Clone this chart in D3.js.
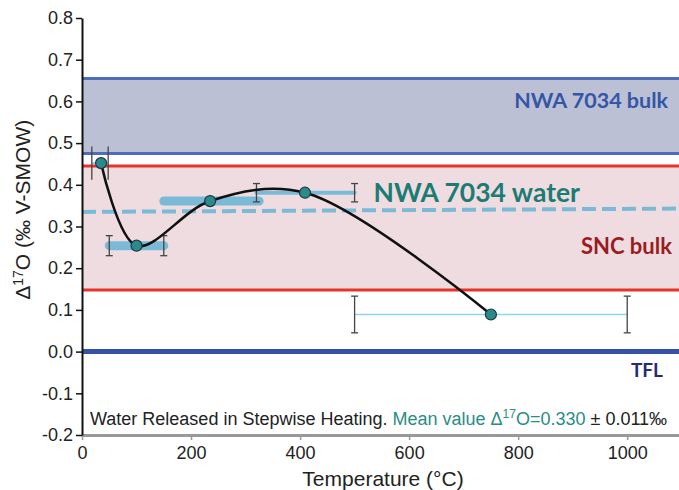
<!DOCTYPE html>
<html>
<head>
<meta charset="utf-8">
<script src="https://cdn.jsdelivr.net/npm/d3@7"></script>
<style>
  body { margin: 0; background: #fff; }
  text { font-family: "Liberation Sans", Arial, sans-serif; }
  .lbl { font-family: Lato, "Open Sans", sans-serif; font-weight: bold; }
</style>
</head>
<body>
<div id="chart"></div>
<script>
// stepwise heating steps
var temps   = [35, 100, 235, 409, 750];
var d17     = [0.452, 0.254, 0.361, 0.381, 0.089];
var stepLo  = [18, 50, 150, 320, 500];
var stepHi  = [48, 150, 325, 500, 1000];
var errD17  = [0.04, 0.024, 0, 0.022, 0.044];
var hasCaps = [false, true, false, true, true];

// reference bands
var nwaBulk = [0.475, 0.655];
var sncBulk = [0.148, 0.445];
var meanLine = [[0, 0.335], [1100, 0.343]];

var xTicks = [0, 200, 400, 600, 800, 1000];
var yTicks = [-0.2, -0.1, 0, 0.1, 0.2, 0.3, 0.4, 0.5, 0.6, 0.7, 0.8];

var barWidths = [2, 9, 9, 4, 1.5];
var barColors = ["#8fd3ec", "#7bbad6", "#7bbad6", "#7bbad6", "#8fd3ec"];

var margin = {top: 18, right: 0, bottom: 55, left: 82}
    , width = 679 - margin.left - margin.right
    , height = 490 - margin.top - margin.bottom;

var svg = d3.select("#chart").append("svg")
    .attr("width", 679)
    .attr("height", 490)
    .append("g")
    .attr("transform", "translate(" + margin.left + "," + margin.top + ")");

var x = d3.scaleLinear().domain([0, 1095]).range([0, width]);
var y = d3.scaleLinear().domain([-0.2, 0.8]).range([height, 0]);

// NWA 7034 bulk band
svg.append("rect")
    .attr("x", 0).attr("width", width)
    .attr("y", y(nwaBulk[1])).attr("height", y(nwaBulk[0]) - y(nwaBulk[1]))
    .attr("fill", "#bbc0d5");
// SNC bulk band
svg.append("rect")
    .attr("x", 0).attr("width", width)
    .attr("y", y(sncBulk[1])).attr("height", y(sncBulk[0]) - y(sncBulk[1]))
    .attr("fill", "#efdce0");

nwaBulk.forEach(function (v) {
    svg.append("line")
        .attr("x1", 0).attr("x2", width).attr("y1", y(v)).attr("y2", y(v))
        .attr("stroke", "#4d6db8").attr("stroke-width", 3);
});
sncBulk.forEach(function (v) {
    svg.append("line")
        .attr("x1", 0).attr("x2", width).attr("y1", y(v)).attr("y2", y(v))
        .attr("stroke", "#e8332a").attr("stroke-width", 3);
});

// TFL
svg.append("line")
    .attr("x1", 0).attr("x2", width).attr("y1", y(0)).attr("y2", y(0))
    .attr("stroke", "#3652a6").attr("stroke-width", 5);

// mean dashed line
svg.append("line")
    .attr("x1", x(meanLine[0][0])).attr("x2", x(meanLine[1][0]))
    .attr("y1", y(meanLine[0][1])).attr("y2", y(meanLine[1][1]))
    .attr("stroke", "#7bbad6").attr("stroke-width", 4)
    .attr("stroke-dasharray", "14,6");

// temperature step bars
var idx = d3.range(temps.length);
svg.selectAll(".bar").data(idx).enter().append("line")
    .attr("x1", function (i) { return x(stepLo[i]); })
    .attr("x2", function (i) { return x(stepHi[i]); })
    .attr("y1", function (i) { return y(d17[i]); })
    .attr("y2", function (i) { return y(d17[i]); })
    .attr("stroke", function (i) { return barColors[i]; })
    .attr("stroke-width", function (i) { return barWidths[i]; })
    .attr("stroke-linecap", function (i) { return barWidths[i] > 3 ? "round" : "butt"; });

// error bars at step ends
idx.forEach(function (i) {
    if (errD17[i] === 0) return;
    [stepLo[i], stepHi[i]].forEach(function (t) {
        var g = svg.append("g").attr("stroke", "#444").attr("stroke-width", 1.3);
        g.append("line")
            .attr("x1", x(t)).attr("x2", x(t))
            .attr("y1", y(d17[i] + errD17[i])).attr("y2", y(d17[i] - errD17[i]));
        if (hasCaps[i]) {
            [d17[i] + errD17[i], d17[i] - errD17[i]].forEach(function (v) {
                g.append("line")
                    .attr("x1", x(t) - 3.5).attr("x2", x(t) + 3.5)
                    .attr("y1", y(v)).attr("y2", y(v));
            });
        }
    });
});

// smooth curve
var line = d3.line()
    .x(function (i) { return x(temps[i]); })
    .y(function (i) { return y(d17[i]); })
    .curve(d3.curveCatmullRom.alpha(0.5));
svg.append("path")
    .datum(idx)
    .attr("d", line)
    .attr("fill", "none")
    .attr("stroke", "#111")
    .attr("stroke-width", 2.5);

svg.selectAll(".pt").data(idx).enter().append("circle")
    .attr("cx", function (i) { return x(temps[i]); })
    .attr("cy", function (i) { return y(d17[i]); })
    .attr("r", 5.5)
    .attr("fill", "#2a8c8a")
    .attr("stroke", "#234")
    .attr("stroke-width", 1.2);

// axes
var xAxis = svg.append("g")
    .attr("transform", "translate(0," + height + ")")
    .call(d3.axisBottom(x).tickValues(xTicks).tickSize(5).tickSizeOuter(0).tickFormat(d3.format("d")));
xAxis.select(".domain").attr("stroke", "#999").attr("stroke-width", 3);
xAxis.selectAll(".tick line").attr("stroke", "#999").attr("stroke-width", 1.5);
xAxis.selectAll(".tick text").attr("font-size", 18).attr("fill", "#222").attr("dy", "0.9em");

var yAxis = svg.append("g")
    .call(d3.axisLeft(y).tickValues(yTicks).tickSize(6).tickSizeOuter(0)
        .tickFormat(function (d) { return d3.format(".1f")(d).replace("−", "-"); }));
yAxis.select(".domain").attr("stroke", "#111").attr("stroke-width", 2);
yAxis.selectAll(".tick line").attr("stroke", "#111").attr("stroke-width", 1.5);
yAxis.selectAll(".tick text").attr("font-size", 18).attr("fill", "#222").attr("x", -9);

// axis titles
svg.append("text")
    .attr("x", 301).attr("y", height + 51)
    .attr("text-anchor", "middle")
    .attr("font-size", 21).attr("fill", "#222")
    .text("Temperature (°C)");

var yt = svg.append("text")
    .attr("transform", "translate(-52," + (y(0.34)) + ") rotate(-90)")
    .attr("text-anchor", "middle")
    .attr("font-size", 21).attr("fill", "#222");
yt.append("tspan").text("Δ");
yt.append("tspan").attr("font-size", 14).attr("dy", -7).text("17");
yt.append("tspan").attr("dy", 7).text("O (‰ V-SMOW)");

// labels
svg.append("text").attr("class", "lbl")
    .attr("x", 586).attr("y", y(0.6) + 7)
    .attr("text-anchor", "end").attr("font-size", 21.5).attr("fill", "#3456a6")
    .text("NWA 7034 bulk");
svg.append("text").attr("class", "lbl")
    .attr("x", 498).attr("y", y(0.345) - 6)
    .attr("text-anchor", "end").attr("font-size", 26.5).attr("fill", "#1c7c74")
    .text("NWA 7034 water");
svg.append("text").attr("class", "lbl")
    .attr("x", 590).attr("y", y(0.235))
    .attr("text-anchor", "end").attr("font-size", 22).attr("fill", "#9b1b1e")
    .text("SNC bulk");
svg.append("text").attr("class", "lbl")
    .attr("x", 581).attr("y", y(-0.06))
    .attr("text-anchor", "end").attr("font-size", 19).attr("fill", "#27297a")
    .text("TFL");

// caption
var cap = svg.append("text")
    .attr("x", 8).attr("y", y(-0.175))
    .attr("font-size", 18).attr("fill", "#222");
cap.append("tspan").text("Water Released in Stepwise Heating. ");
cap.append("tspan").attr("fill", "#2a8c85").text("Mean value Δ");
cap.append("tspan").attr("fill", "#2a8c85").attr("font-size", 12).attr("dy", -7).text("17");
cap.append("tspan").attr("fill", "#2a8c85").attr("dy", 7).text("O=0.330 ");
cap.append("tspan").text("± 0.011‰");
</script>
</body>
</html>
